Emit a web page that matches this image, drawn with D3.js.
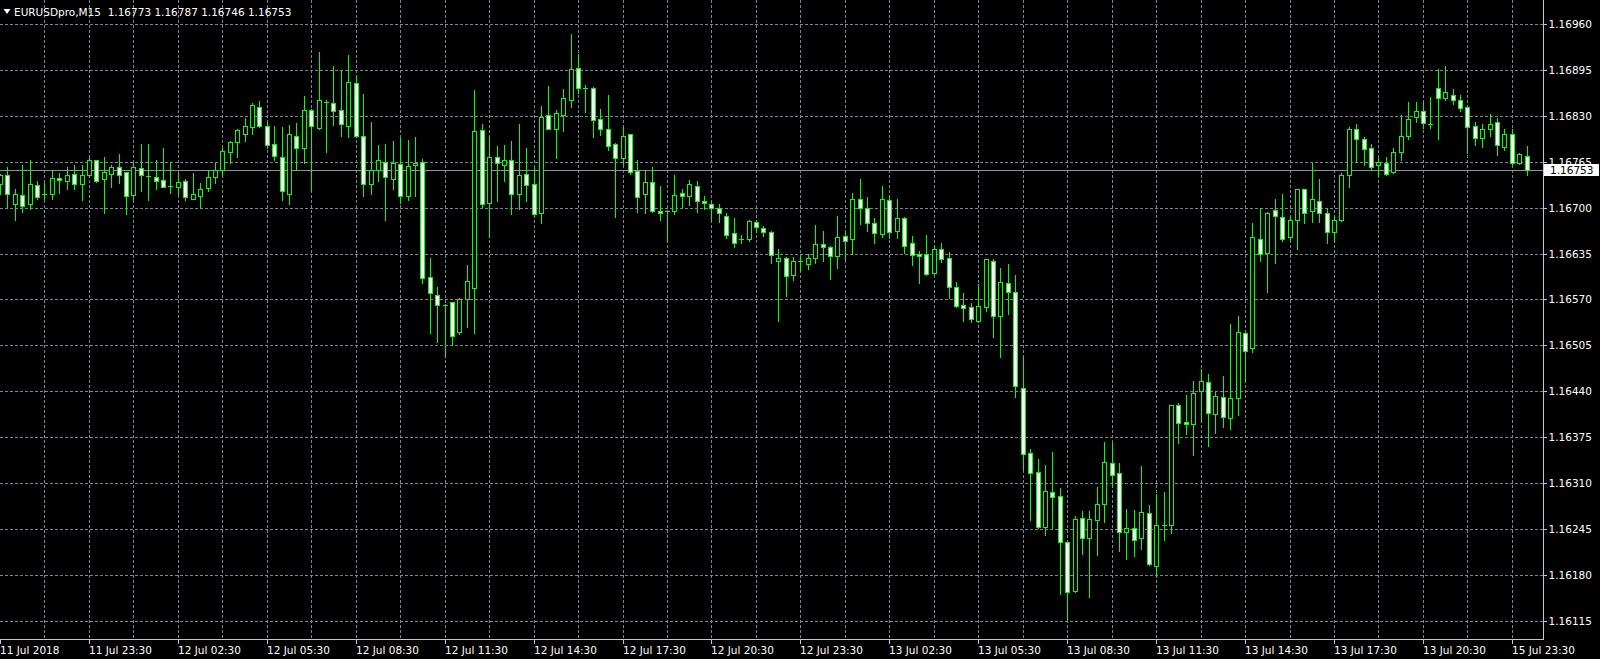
<!DOCTYPE html>
<html>
<head>
<meta charset="utf-8">
<script src="https://cdn.jsdelivr.net/npm/d3@7"></script>
<style>
html,body{margin:0;padding:0;background:#000;overflow:hidden;}
svg{display:block;}
text{font-family:"DejaVu Sans",sans-serif;}
</style>
</head>
<body>
<svg id="chart" width="1600" height="659"></svg>
<script>
const symbolTitle = "EURUSDpro,M15";
const lastBar = [1.16773, 1.16787, 1.16746, 1.16753];

const open = [1.16734,1.16746,1.16705,1.16718,1.16705,1.16732,1.16720,1.16720,1.16742,1.16738,1.16748,1.16733,1.16747,1.16767,1.16741,1.16748,1.16757,1.16750,1.16718,1.16756,1.16745,1.16743,1.16739,1.16731,1.16729,1.16738,1.16713,1.16717,1.16728,1.16743,1.16753,1.16779,1.16793,1.16805,1.16814,1.16843,1.16815,1.16790,1.16772,1.16720,1.16802,1.16785,1.16839,1.16813,1.16849,1.16848,1.16839,1.16816,1.16876,1.16802,1.16733,1.16754,1.16765,1.16741,1.16762,1.16716,1.16760,1.16765,1.16602,1.16576,1.16562,1.16566,1.16524,1.16571,1.16586,1.16810,1.16707,1.16772,1.16761,1.16768,1.16720,1.16748,1.16733,1.16692,1.16831,1.16811,1.16831,1.16852,1.16898,1.16869,1.16870,1.16825,1.16812,1.16790,1.16771,1.16804,1.16752,1.16719,1.16737,1.16695,1.16695,1.16695,1.16721,1.16716,1.16731,1.16710,1.16705,1.16699,1.16688,1.16664,1.16655,1.16655,1.16680,1.16671,1.16666,1.16625,1.16629,1.16605,1.16625,1.16620,1.16629,1.16649,1.16645,1.16632,1.16660,1.16655,1.16713,1.16700,1.16679,1.16663,1.16711,1.16667,1.16686,1.16650,1.16635,1.16635,1.16607,1.16641,1.16629,1.16587,1.16562,1.16560,1.16540,1.16559,1.16625,1.16547,1.16594,1.16580,1.16445,1.16352,1.16326,1.16248,1.16297,1.16292,1.16226,1.16157,1.16260,1.16232,1.16258,1.16280,1.16339,1.16324,1.16241,1.16247,1.16232,1.16267,1.16192,1.16250,1.16251,1.16421,1.16397,1.16394,1.16440,1.16453,1.16408,1.16432,1.16402,1.16430,1.16523,1.16501,1.16656,1.16636,1.16697,1.16687,1.16658,1.16683,1.16726,1.16695,1.16709,1.16692,1.16666,1.16682,1.16747,1.16812,1.16797,1.16784,1.16760,1.16764,1.16750,1.16779,1.16802,1.16828,1.16837,1.16819,1.16870,1.16856,1.16859,1.16853,1.16843,1.16815,1.16798,1.16811,1.16821,1.16786,1.16804,1.16764,1.16773];
const high = [1.16748,1.16758,1.16726,1.16760,1.16768,1.16738,1.16735,1.16754,1.16749,1.16757,1.16760,1.16760,1.16770,1.16768,1.16772,1.16760,1.16776,1.16751,1.16763,1.16790,1.16790,1.16768,1.16784,1.16763,1.16749,1.16741,1.16749,1.16735,1.16753,1.16763,1.16784,1.16794,1.16811,1.16827,1.16848,1.16851,1.16822,1.16815,1.16814,1.16817,1.16820,1.16858,1.16840,1.16920,1.16853,1.16901,1.16895,1.16916,1.16888,1.16861,1.16822,1.16789,1.16790,1.16794,1.16799,1.16796,1.16800,1.16769,1.16629,1.16587,1.16564,1.16567,1.16572,1.16619,1.16866,1.16819,1.16802,1.16788,1.16789,1.16794,1.16819,1.16785,1.16756,1.16844,1.16872,1.16838,1.16868,1.16946,1.16917,1.16874,1.16871,1.16840,1.16860,1.16791,1.16816,1.16805,1.16768,1.16752,1.16758,1.16731,1.16697,1.16746,1.16727,1.16739,1.16738,1.16717,1.16709,1.16705,1.16693,1.16685,1.16662,1.16683,1.16683,1.16674,1.16667,1.16642,1.16630,1.16630,1.16635,1.16635,1.16676,1.16667,1.16646,1.16688,1.16666,1.16721,1.16741,1.16715,1.16685,1.16731,1.16717,1.16712,1.16687,1.16660,1.16639,1.16661,1.16646,1.16650,1.16637,1.16595,1.16579,1.16565,1.16592,1.16628,1.16627,1.16614,1.16620,1.16605,1.16490,1.16358,1.16344,1.16336,1.16354,1.16303,1.16226,1.16263,1.16270,1.16270,1.16304,1.16368,1.16367,1.16339,1.16273,1.16272,1.16334,1.16279,1.16295,1.16297,1.16421,1.16423,1.16435,1.16455,1.16472,1.16465,1.16439,1.16462,1.16535,1.16547,1.16524,1.16679,1.16700,1.16694,1.16713,1.16719,1.16688,1.16726,1.16727,1.16764,1.16740,1.16699,1.16688,1.16749,1.16814,1.16819,1.16800,1.16790,1.16771,1.16772,1.16784,1.16831,1.16849,1.16849,1.16850,1.16857,1.16896,1.16901,1.16868,1.16860,1.16844,1.16821,1.16819,1.16832,1.16827,1.16811,1.16811,1.16777,1.16787];
const low = [1.16719,1.16699,1.16682,1.16694,1.16698,1.16712,1.16712,1.16713,1.16721,1.16727,1.16727,1.16711,1.16743,1.16737,1.16692,1.16730,1.16735,1.16691,1.16711,1.16724,1.16711,1.16726,1.16729,1.16721,1.16720,1.16711,1.16712,1.16699,1.16723,1.16735,1.16746,1.16763,1.16772,1.16794,1.16804,1.16814,1.16785,1.16768,1.16711,1.16705,1.16754,1.16763,1.16724,1.16812,1.16779,1.16817,1.16802,1.16800,1.16800,1.16716,1.16719,1.16738,1.16682,1.16727,1.16706,1.16711,1.16716,1.16594,1.16523,1.16510,1.16489,1.16506,1.16521,1.16531,1.16522,1.16701,1.16658,1.16710,1.16738,1.16691,1.16698,1.16710,1.16688,1.16679,1.16811,1.16771,1.16809,1.16842,1.16863,1.16835,1.16800,1.16803,1.16782,1.16687,1.16762,1.16748,1.16694,1.16692,1.16694,1.16682,1.16651,1.16691,1.16701,1.16704,1.16694,1.16698,1.16683,1.16680,1.16657,1.16645,1.16650,1.16653,1.16666,1.16660,1.16621,1.16540,1.16575,1.16597,1.16611,1.16613,1.16622,1.16624,1.16599,1.16615,1.16628,1.16635,1.16677,1.16667,1.16650,1.16658,1.16657,1.16657,1.16636,1.16619,1.16594,1.16604,1.16606,1.16623,1.16572,1.16560,1.16540,1.16538,1.16540,1.16554,1.16517,1.16488,1.16550,1.16432,1.16329,1.16258,1.16247,1.16237,1.16247,1.16153,1.16117,1.16156,1.16209,1.16149,1.16208,1.16255,1.16305,1.16214,1.16203,1.16207,1.16216,1.16194,1.16177,1.16230,1.16240,1.16367,1.16380,1.16350,1.16397,1.16363,1.16381,1.16390,1.16387,1.16406,1.16454,1.16496,1.16624,1.16581,1.16621,1.16653,1.16654,1.16642,1.16679,1.16680,1.16680,1.16650,1.16652,1.16681,1.16730,1.16765,1.16760,1.16753,1.16745,1.16747,1.16749,1.16768,1.16797,1.16822,1.16813,1.16813,1.16797,1.16853,1.16847,1.16837,1.16777,1.16789,1.16786,1.16802,1.16775,1.16782,1.16760,1.16762,1.16746];
const close = [1.16746,1.16720,1.16719,1.16703,1.16733,1.16715,1.16720,1.16742,1.16739,1.16747,1.16733,1.16747,1.16768,1.16738,1.16750,1.16757,1.16747,1.16717,1.16757,1.16747,1.16745,1.16738,1.16730,1.16731,1.16736,1.16715,1.16719,1.16727,1.16743,1.16753,1.16781,1.16793,1.16810,1.16815,1.16845,1.16815,1.16789,1.16773,1.16723,1.16804,1.16785,1.16839,1.16815,1.16852,1.16849,1.16837,1.16818,1.16878,1.16801,1.16733,1.16753,1.16767,1.16743,1.16763,1.16716,1.16759,1.16763,1.16601,1.16579,1.16562,1.16562,1.16518,1.16570,1.16596,1.16808,1.16705,1.16772,1.16763,1.16768,1.16719,1.16746,1.16732,1.16691,1.16828,1.16812,1.16834,1.16855,1.16896,1.16869,1.16869,1.16824,1.16811,1.16788,1.16771,1.16802,1.16750,1.16715,1.16736,1.16695,1.16692,1.16695,1.16718,1.16716,1.16733,1.16710,1.16706,1.16699,1.16692,1.16662,1.16650,1.16655,1.16681,1.16673,1.16666,1.16633,1.16629,1.16603,1.16624,1.16625,1.16629,1.16648,1.16645,1.16632,1.16658,1.16653,1.16712,1.16699,1.16678,1.16664,1.16712,1.16666,1.16685,1.16646,1.16633,1.16632,1.16606,1.16641,1.16628,1.16587,1.16561,1.16558,1.16542,1.16561,1.16627,1.16547,1.16595,1.16581,1.16447,1.16351,1.16324,1.16248,1.16299,1.16290,1.16226,1.16156,1.16259,1.16232,1.16259,1.16280,1.16340,1.16321,1.16241,1.16246,1.16230,1.16269,1.16195,1.16250,1.16250,1.16420,1.16395,1.16393,1.16437,1.16455,1.16409,1.16433,1.16403,1.16431,1.16524,1.16497,1.16658,1.16635,1.16692,1.16688,1.16656,1.16683,1.16726,1.16692,1.16712,1.16692,1.16666,1.16682,1.16747,1.16812,1.16797,1.16783,1.16758,1.16765,1.16748,1.16779,1.16801,1.16826,1.16837,1.16820,1.16819,1.16856,1.16864,1.16852,1.16841,1.16814,1.16798,1.16812,1.16818,1.16789,1.16805,1.16763,1.16776,1.16753];

const priceTicks = [1.16960,1.16895,1.16830,1.16765,1.16700,1.16635,1.16570,1.16505,1.16440,1.16375,1.16310,1.16245,1.16180,1.16115];
const timeLabels = ["11 Jul 2018","11 Jul 23:30","12 Jul 02:30","12 Jul 05:30","12 Jul 08:30","12 Jul 11:30","12 Jul 14:30","12 Jul 17:30","12 Jul 20:30","12 Jul 23:30","13 Jul 02:30","13 Jul 05:30","13 Jul 08:30","13 Jul 11:30","13 Jul 14:30","13 Jul 17:30","13 Jul 20:30","15 Jul 23:30"];
const timeLabelBars = [0,12,24,36,48,60,72,84,96,108,120,132,144,156,168,180,192,204];
const gridBars = [6,12,18,24,30,36,42,48,54,60,66,72,78,84,90,96,102,108,114,120,126,132,138,144,150,156,162,168,174,180,186,192,198,204];

const W = 1600, H = 659;
const plotRight = 1543, plotBottom = 639;
const green = "#00ff00", gridColor = "#778899", fg = "#ffffff";

const svg = d3.select("#chart");
svg.append("rect").attr("width", W).attr("height", H).attr("fill", "#000");

const n = open.length;
const x = d3.scaleLinear().domain([0, n - 1]).range([0, (n - 1) * 7.411]);
const y = d3.scaleLinear().domain([1.16115, 1.16960]).range([620.8, 24.1]);
const px = v => Math.round(v) + 0.5;

// grid
const grid = svg.append("g").attr("shape-rendering", "crispEdges")
  .attr("stroke", gridColor).attr("stroke-dasharray", "3,2").attr("stroke-width", 1);
grid.selectAll("line.h").data(priceTicks).join("line").attr("class", "h")
  .attr("x1", 0).attr("x2", plotRight).attr("y1", d => px(y(d))).attr("y2", d => px(y(d)));
grid.selectAll("line.v").data(gridBars).join("line").attr("class", "v")
  .attr("x1", d => px(x(d))).attr("x2", d => px(x(d))).attr("y1", 0).attr("y2", plotBottom);

// bid line
svg.append("line").attr("shape-rendering", "crispEdges")
  .attr("x1", 0).attr("x2", plotRight)
  .attr("y1", px(y(lastBar[3]))).attr("y2", px(y(lastBar[3])))
  .attr("stroke", "#8a929c").attr("stroke-width", 1);

// candles
const bars = d3.range(n).map(i => ({i, o: open[i], h: high[i], l: low[i], c: close[i]}));
const cg = svg.append("g").attr("shape-rendering", "crispEdges");
const cand = cg.selectAll("g").data(bars).join("g");
cand.append("line")
  .attr("x1", d => px(x(d.i))).attr("x2", d => px(x(d.i)))
  .attr("y1", d => Math.round(y(d.h))).attr("y2", d => Math.round(y(d.l)) + 1)
  .attr("stroke", green);
cand.filter(d => d.o !== d.c).append("rect")
  .attr("x", d => Math.round(x(d.i)) - 2 + 0.5)
  .attr("width", 4)
  .attr("y", d => px(y(Math.max(d.o, d.c))))
  .attr("height", d => Math.max(1, Math.round(y(Math.min(d.o, d.c))) - Math.round(y(Math.max(d.o, d.c)))))
  .attr("fill", d => d.c > d.o ? "#000" : "#fff")
  .attr("stroke", green);
cand.filter(d => d.o === d.c).append("line")
  .attr("x1", d => Math.round(x(d.i)) - 2).attr("x2", d => Math.round(x(d.i)) + 3)
  .attr("y1", d => px(y(d.o))).attr("y2", d => px(y(d.o)))
  .attr("stroke", green);

// frame
svg.append("line").attr("shape-rendering", "crispEdges")
  .attr("x1", px(plotRight)).attr("x2", px(plotRight)).attr("y1", 0).attr("y2", plotBottom + 1)
  .attr("stroke", "#c8c8c8");
svg.append("line").attr("shape-rendering", "crispEdges")
  .attr("x1", 0).attr("x2", plotRight + 1).attr("y1", px(plotBottom)).attr("y2", px(plotBottom))
  .attr("stroke", "#c8c8c8");

// price axis
const ya = svg.append("g").attr("transform", `translate(${plotRight + 0.5},0)`)
  .call(d3.axisRight(y).tickValues(priceTicks).tickFormat(d3.format(".5f")).tickSize(3).tickPadding(2));
ya.select(".domain").remove();
ya.selectAll(".tick line").attr("stroke", "#c8c8c8").attr("shape-rendering", "crispEdges");
ya.selectAll(".tick").attr("transform", d => `translate(0,${px(y(d))})`);
ya.selectAll("text").attr("fill", fg).style("font-family", "DejaVu Sans").style("font-size", "10.5px");

// time axis
const xa = svg.append("g").attr("transform", `translate(0,${px(plotBottom)})`)
  .call(d3.axisBottom(x).tickValues(timeLabelBars).tickFormat((d, k) => timeLabels[k]).tickSize(4).tickPadding(3));
xa.select(".domain").remove();
xa.selectAll(".tick").attr("transform", d => `translate(${px(x(d))},0)`);
xa.selectAll(".tick line").attr("stroke", "#c8c8c8").attr("shape-rendering", "crispEdges");
xa.selectAll("text").attr("fill", fg).attr("text-anchor", "start").attr("x", -0.5)
  .style("font-family", "DejaVu Sans").style("font-size", "10.5px");

// current price box
const by = y(lastBar[3]);
svg.append("rect").attr("x", plotRight + 1).attr("y", Math.round(by) - 6).attr("width", 55).attr("height", 12)
  .attr("fill", "#fff").attr("shape-rendering", "crispEdges");
svg.append("text").attr("x", plotRight + 7).attr("y", by).attr("dy", "0.35em")
  .attr("fill", "#000").style("font-size", "10.5px").text(d3.format(".5f")(lastBar[3]));

// header
svg.append("path").attr("d", "M3.5,9 L10.5,9 L7,14 Z").attr("fill", fg);
svg.append("text").attr("x", 14).attr("y", 12).attr("dy", "0.35em").attr("fill", fg)
  .style("font-size", "10.5px").attr("xml:space", "preserve")
  .text(symbolTitle + "  " + lastBar.map(d3.format(".5f")).join(" "));
</script>
</body>
</html>
